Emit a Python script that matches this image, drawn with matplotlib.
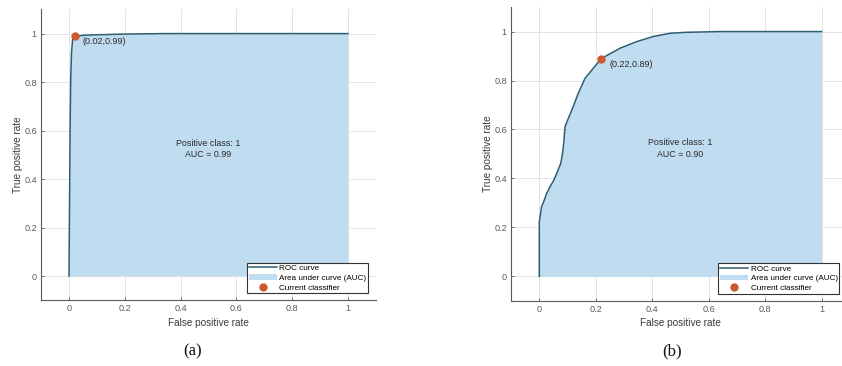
import matplotlib.pyplot as plt

plt.rcParams['font.family'] = ['Liberation Sans', 'DejaVu Sans']

# ROC curve (a) - nearly perfect classifier
fpr_a = [0, 0.002, 0.004, 0.006, 0.009, 0.013, 0.018, 0.05, 0.1, 0.2, 0.35, 1.0]
tpr_a = [0, 0.30, 0.60, 0.80, 0.92, 0.975, 0.987, 0.993, 0.995, 0.998, 1.0, 1.0]
op_a = (0.02, 0.99)
auc_a = 0.99

# ROC curve (b)
fpr_b = [0, 0, 0.008, 0.014, 0.026, 0.038, 0.05, 0.062, 0.076, 0.082, 0.087, 0.091,
         0.103, 0.12, 0.138, 0.162, 0.191, 0.22, 0.286, 0.345, 0.404, 0.463, 0.52, 0.64, 1.0]
tpr_b = [0, 0.223, 0.285, 0.30, 0.339, 0.366, 0.39, 0.421, 0.462, 0.50, 0.55, 0.611,
         0.646, 0.693, 0.748, 0.809, 0.850, 0.89, 0.932, 0.959, 0.980, 0.993, 0.997, 1.0, 1.0]
op_b = (0.22, 0.89)
auc_b = 0.90

ticks = [0, 0.2, 0.4, 0.6, 0.8, 1]
tick_labels = ['0', '0.2', '0.4', '0.6', '0.8', '1']

fill_c = '#bfdcf1'
line_c = '#2d5d70'
dot_c = '#cc5a2c'
txt_c = '#2a2a2a'
ax_c = '#5a5a5a'

fig = plt.figure(figsize=(8.42, 3.66), dpi=100)
ax_a = fig.add_axes([0.0488, 0.1795, 0.3976, 0.795])
ax_b = fig.add_axes([0.607, 0.1781, 0.4023, 0.8025])

panels = [
    (ax_a, fpr_a, tpr_a, op_a, auc_a, (0.977, 0.024)),
    (ax_b, fpr_b, tpr_b, op_b, auc_b, (0.969, 0.024)),
]

for ax, fpr, tpr, op, auc, leg_pos in panels:
    ax.set_xlim(-0.1, 1.1)
    ax.set_ylim(-0.1, 1.1)
    ax.grid(True, color='#e4e4e4', linewidth=0.7, zorder=0)
    ax.set_axisbelow(True)
    area = ax.fill_between(fpr, tpr, 0, color=fill_c, linewidth=0, zorder=1,
                           label='Area under curve (AUC)')
    line, = ax.plot(fpr, tpr, color=line_c, linewidth=1.1, zorder=2, label='ROC curve')
    dot, = ax.plot([op[0]], [op[1]], 'o', color=dot_c, markersize=5, zorder=3,
                   linestyle='none', label='Current classifier')
    ax.annotate('(%.2f,%.2f)' % op, xy=op, xytext=(5.5, -4.3), textcoords='offset points',
                ha='left', va='center', fontsize=6.5, color=txt_c)
    ax.text(0.5, 0.523, 'Positive class: 1\nAUC = %.2f' % auc, ha='center', va='center',
            fontsize=6.4, color=txt_c, linespacing=1.35)
    ax.set_xticks(ticks)
    ax.set_xticklabels(tick_labels)
    ax.set_yticks(ticks)
    ax.set_yticklabels(tick_labels)
    ax.tick_params(direction='in', length=2.5, width=0.6, colors=ax_c, labelsize=6.6, pad=3)
    ax.set_xlabel('False positive rate', fontsize=7.2, color='#3a3a3a', labelpad=3)
    ax.set_ylabel('True positive rate', fontsize=7.2, color='#3a3a3a', labelpad=1)
    for s in ['top', 'right']:
        ax.spines[s].set_visible(False)
    for s in ['left', 'bottom']:
        ax.spines[s].set_color(ax_c)
        ax.spines[s].set_linewidth(0.8)
    leg = ax.legend(handles=[line, area, dot], loc='lower right', bbox_to_anchor=leg_pos,
                    fontsize=5.9, handlelength=3.4, handletextpad=0.35, borderpad=0.2,
                    labelspacing=0.25, borderaxespad=0, fancybox=False, framealpha=1,
                    edgecolor='#333333')
    leg.get_frame().set_linewidth(0.8)
    leg.set_zorder(5)

fig.text(0.2289, 0.039, '(a)', ha='center', va='center', fontsize=12,
         family=['Liberation Serif', 'DejaVu Serif'], color='#111111')
fig.text(0.7985, 0.039, '(b)', ha='center', va='center', fontsize=12,
         family=['Liberation Serif', 'DejaVu Serif'], color='#111111')

fig.savefig('out.png', dpi=100)
